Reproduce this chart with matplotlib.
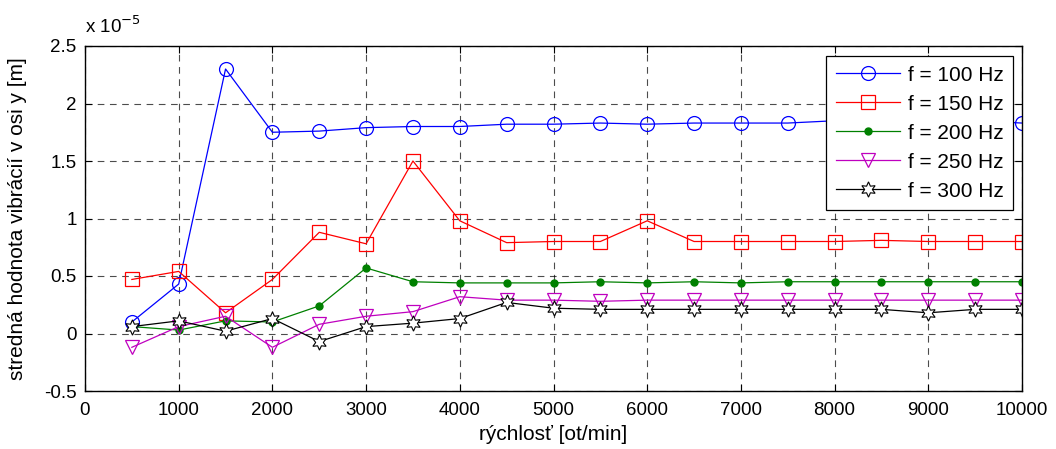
import numpy as np
from matplotlib import pyplot as plt

plt.rcParams['font.family'] = ['Liberation Sans', 'DejaVu Sans']

rpm = [500, 1000, 1500, 2000, 2500, 3000, 3500, 4000, 4500, 5000,
       5500, 6000, 6500, 7000, 7500, 8000, 8500, 9000, 9500, 10000]

# values in units of 1e-5 m
f100 = [0.10, 0.43, 2.30, 1.75, 1.76, 1.79, 1.80, 1.80, 1.82, 1.82,
        1.83, 1.82, 1.83, 1.83, 1.83, 1.85, 1.86, 1.86, 1.85, 1.83]
f150 = [0.47, 0.54, 0.18, 0.47, 0.88, 0.78, 1.50, 0.98, 0.79, 0.80,
        0.80, 0.98, 0.80, 0.80, 0.80, 0.80, 0.81, 0.80, 0.80, 0.80]
f200 = [0.06, 0.03, 0.11, 0.10, 0.24, 0.57, 0.45, 0.44, 0.44, 0.44,
        0.45, 0.44, 0.45, 0.44, 0.45, 0.45, 0.45, 0.45, 0.45, 0.45]
f250 = [-0.12, 0.06, 0.15, -0.12, 0.08, 0.15, 0.19, 0.32, 0.29, 0.29,
        0.28, 0.29, 0.29, 0.29, 0.29, 0.29, 0.29, 0.29, 0.29, 0.29]
f300 = [0.06, 0.11, 0.02, 0.13, -0.07, 0.06, 0.09, 0.13, 0.27, 0.22,
        0.21, 0.21, 0.21, 0.21, 0.21, 0.21, 0.21, 0.18, 0.21, 0.21]

labels = ['f = 100 Hz', 'f = 150 Hz', 'f = 200 Hz', 'f = 250 Hz', 'f = 300 Hz']

fig = plt.figure(figsize=(10.56, 4.49), dpi=100)
ax = fig.add_axes([85/1056, 1 - 391/449, (1022-85)/1056, (391-46)/449])

lw = 0.9
ax.plot(rpm, f100, color='#0000ff', lw=lw, marker='o', ms=10, mfc='none', mew=0.9, label=labels[0])
ax.plot(rpm, f150, color='#ff0000', lw=lw, marker='s', ms=10, mfc='none', mew=0.9, label=labels[1])
ax.plot(rpm, f200, color='#008000', lw=lw, marker='.', ms=10, label=labels[2])
ax.plot(rpm, f250, color='#bf00bf', lw=lw, marker='v', ms=10, mfc='none', mew=0.9, label=labels[3])
ax.plot(rpm, f300, color='black', lw=lw, marker=(6, 1, 0), ms=11, mfc='white', mew=0.8, label=labels[4])

ax.set_xlim(0, 10000)
ax.set_ylim(-0.5, 2.5)
ax.set_xticks(np.arange(0, 10001, 1000))
ax.set_yticks(np.arange(-0.5, 2.51, 0.5))
ax.set_yticklabels(['-0.5', '0', '0.5', '1', '1.5', '2', '2.5'])
ax.tick_params(axis='both', direction='in', top=True, right=True, labelsize=13.5, length=5)
ax.tick_params(axis='x', pad=8)
ax.tick_params(axis='y', pad=6)
ax.grid(True, color='black', ls=(0, (6, 5)), lw=0.8, alpha=0.7)
for s in ax.spines.values():
    s.set_linewidth(1.0)

ax.set_xlabel('rýchlosť [ot/min]', fontsize=15, labelpad=4)
ax.set_ylabel('stredná hodnota vibrácií v osi y [m]', fontsize=15, labelpad=12)
ax.text(0, 1.025, r'x 10$^{-5}$', transform=ax.transAxes, fontsize=13.5, ha='left', va='bottom')

leg = ax.legend(loc='upper right', bbox_to_anchor=(0.99, 0.97), fontsize=15,
                fancybox=False, framealpha=1, edgecolor='black', handlelength=3.1,
                handletextpad=0.35, borderpad=0.45, labelspacing=0.48, borderaxespad=0)
leg.get_frame().set_linewidth(0.9)

fig.savefig('out.png', dpi=100)
